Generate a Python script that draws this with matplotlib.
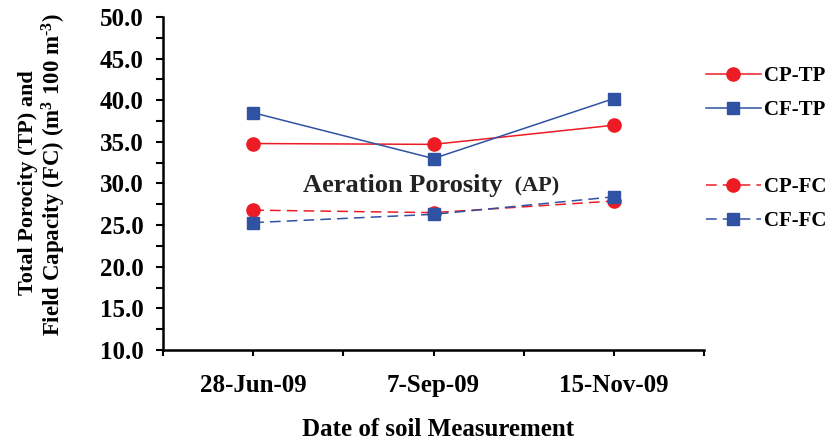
import numpy as np
import matplotlib
matplotlib.use("Agg")
import matplotlib.pyplot as plt
from matplotlib.ticker import MultipleLocator, FormatStrFormatter

# === Datos ===
fechas = ["28-Jun-09", "7-Sep-09", "15-Nov-09"]
cp_tp = [34.8, 34.7, 37.0]
cf_tp = [38.5, 33.0, 40.2]
cp_fc = [26.8, 26.5, 27.9]
cf_fc = [25.3, 26.3, 28.4]

ROJO = "#ED1C24"
AZUL = "#2F52A3"

plt.rcParams["font.family"] = ["Liberation Serif", "DejaVu Serif"]
plt.rcParams["font.weight"] = "bold"
plt.rcParams["mathtext.fontset"] = "custom"
plt.rcParams["mathtext.rm"] = "Liberation Serif:bold"
plt.rcParams["mathtext.bf"] = "Liberation Serif:bold"
plt.rcParams["mathtext.default"] = "bf"

fig = plt.figure(figsize=(8.32, 4.43), dpi=100)
ax = fig.add_axes([163 / 832, 1 - 350 / 443, (704 - 163) / 832, (350 - 17) / 443])

x = np.arange(len(fechas)) + 0.5

l1, = ax.plot(x, cp_tp, color=ROJO, lw=1.1, marker="o", ms=9.5, label="CP-TP")
l2, = ax.plot(x, cf_tp, color=AZUL, lw=1.1, marker="s", ms=8.5, label="CF-TP")
l3, = ax.plot(x, cp_fc, color=ROJO, lw=1.1, ls=(0, (7, 4)), marker="o", ms=9.5, label="CP-FC")
l4, = ax.plot(x, cf_fc, color=AZUL, lw=1.1, ls=(0, (7, 4)), marker="s", ms=8.5, label="CF-FC")

ax.set_xlim(0, 3)
ax.set_ylim(10, 50)
ax.set_xticks(np.arange(0, 3.01, 0.5))
etiquetas = []
for i in range(7):
    etiquetas.append(fechas[i // 2] if i % 2 == 1 else "")
ax.set_xticklabels(etiquetas, fontsize=18, fontweight="bold")
ax.yaxis.set_major_locator(MultipleLocator(5))
ax.yaxis.set_minor_locator(MultipleLocator(2.5))
ax.yaxis.set_major_formatter(FormatStrFormatter("%.1f"))
for lbl in ax.get_yticklabels():
    lbl.set_fontsize(18)
    lbl.set_fontweight("bold")

ax.tick_params(axis="y", which="both", direction="out", length=5, width=1.5, pad=9, labelsize=18)
ax.tick_params(axis="x", direction="out", length=4, width=1.5, pad=13, labelsize=18)
for s in ["top", "right"]:
    ax.spines[s].set_visible(False)
for s in ["left", "bottom"]:
    ax.spines[s].set_linewidth(1.8)
ax.set_facecolor("none")

# texto central
ax.text(1.88, 29.0, "Aeration Porosity", ha="right", va="baseline", fontsize=19,
        fontweight="bold", color="#222222")
ax.text(1.92, 29.0, " (AP)", ha="left", va="baseline", fontsize=16,
        fontweight="bold", color="#222222")

fig.text(0.5 * (163 + 704) / 832 + 0.005, 1 - 430 / 443, "Date of soil Measurement",
         ha="center", va="center", fontsize=18, fontweight="bold")
fig.text(28 / 832, 1 - 183 / 443, "Total Porocity (TP) and", rotation=90,
         ha="center", va="center", fontsize=16, fontweight="bold")
fig.text(54 / 832, 1 - 175 / 443, "Field Capacity (FC) (m$^{3}$ 100 m$^{\u20103}$)",
         rotation=90, ha="center", va="center", fontsize=16.5, fontweight="bold")

leg_kw = dict(frameon=False, handlelength=2.6, handletextpad=0.15,
              labelspacing=0.65, borderaxespad=0, prop={"weight": "bold", "size": 15})
leg1 = fig.legend(handles=[l1, l2], loc="upper left",
                  bbox_to_anchor=(698 / 832, 1 - 58 / 443), **leg_kw)
leg2 = fig.legend(handles=[l3, l4], loc="upper left",
                  bbox_to_anchor=(698 / 832, 1 - 169 / 443), **leg_kw)

fig.savefig("out.png", dpi=100)
